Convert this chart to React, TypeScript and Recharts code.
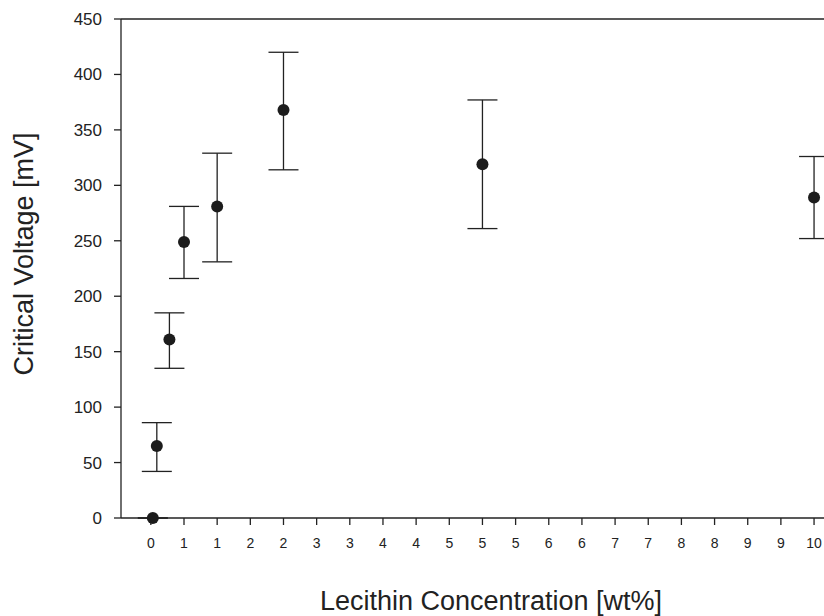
import {
  ScatterChart,
  Scatter,
  XAxis,
  YAxis,
  ErrorBar,
  ReferenceLine,
  Label,
} from "recharts"

const concentration = [0.03, 0.09, 0.28, 0.5, 1, 2, 5, 10]
const voltage = [0, 65, 161, 249, 281, 368, 319, 289]
// [below, above] error in mV
const voltageErr = [
  [0, 0],
  [23, 21],
  [26, 24],
  [33, 32],
  [50, 48],
  [54, 52],
  [58, 58],
  [37, 37],
]

const xTicks = [0, 0.5, 1, 1.5, 2, 2.5, 3, 3.5, 4, 4.5, 5, 5.5, 6, 6.5, 7, 7.5, 8, 8.5, 9, 9.5, 10]
const xTickLabels = ["0", "1", "1", "2", "2", "3", "3", "4", "4", "5", "5", "5", "6", "6", "7", "7", "8", "8", "9", "9", "10"]
const yTicks = [0, 50, 100, 150, 200, 250, 300, 350, 400, 450]

const ink = "#222"
const font = "'Liberation Sans', Arial, sans-serif"

const Dot = (props: any) => (
  <circle cx={props.cx} cy={props.cy} r={6} fill="#1c1c1c" />
)

export default function App() {
  const data = concentration.map((c, i) => ({
    c,
    v: voltage[i],
    err: voltageErr[i],
  }))

  return (
    <div style={{ position: "absolute", left: 0, top: 0, width: 824, height: 616, background: "#fff" }}>
      <ScatterChart
        width={824}
        height={616}
        margin={{ top: 19, right: 0, bottom: 38, left: 0 }}
        style={{ fontFamily: font }}
      >
        <XAxis
          type="number"
          dataKey="c"
          domain={[-0.45, 10.15]}
          ticks={xTicks}
          interval={0}
          tickFormatter={(_v: number, i: number) => xTickLabels[i]}
          tickSize={7}
          tickMargin={13}
          height={60}
          stroke={ink}
          strokeWidth={1.3}
          tick={{ fill: ink, fontSize: 14 }}
        >
          <Label
            content={() => (
              <text x={491} y={610} textAnchor="middle" fontSize={27} fill={ink} fontFamily={font}>
                Lecithin Concentration [wt%]
              </text>
            )}
          />
        </XAxis>
        <YAxis
          type="number"
          dataKey="v"
          domain={[0, 450]}
          ticks={yTicks}
          interval={0}
          width={121}
          tickSize={7}
          tickMargin={12}
          stroke={ink}
          strokeWidth={1.3}
          tick={{ fill: ink, fontSize: 17 }}
        >
          <Label
            content={() => (
              <text
                x={33}
                y={254}
                transform="rotate(-90 33 254)"
                textAnchor="middle"
                fontSize={27}
                fill={ink}
                fontFamily={font}
              >
                Critical Voltage [mV]
              </text>
            )}
          />
        </YAxis>
        <ReferenceLine y={450} stroke={ink} strokeWidth={1.3} />
        <Scatter data={data} shape={Dot} isAnimationActive={false}>
          <ErrorBar dataKey="err" direction="y" width={15} stroke={ink} strokeWidth={1.3} />
        </Scatter>
      </ScatterChart>
    </div>
  )
}
